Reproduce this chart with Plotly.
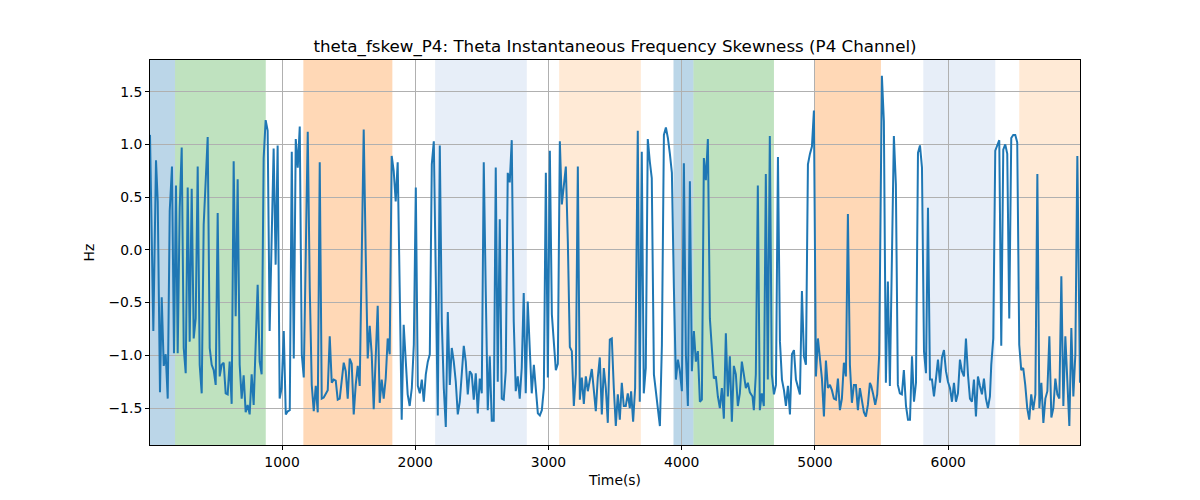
import plotly.graph_objects as go

time_s = [
    9, 34, 54, 67, 84, 97, 112, 127, 142, 157, 174, 189, 204, 217, 232, 247, 262, 277, 292, 307,
    322, 337, 352, 367, 382, 397, 412, 427, 442, 457, 472, 487, 502, 517, 532, 547, 562, 577, 592, 607,
    622, 637, 652, 667, 682, 697, 712, 727, 742, 757, 772, 787, 802, 817, 832, 847, 862, 877, 892, 907,
    937, 952, 967, 982, 997, 1013, 1028, 1043, 1058, 1073, 1088, 1103, 1118, 1133, 1148, 1163, 1193, 1208, 1223, 1238,
    1253, 1268, 1283, 1298, 1313, 1328, 1343, 1358, 1373, 1388, 1403, 1418, 1433, 1463, 1478, 1493, 1508, 1523, 1538, 1553,
    1568, 1583, 1613, 1628, 1643, 1658, 1673, 1688, 1703, 1718, 1733, 1748, 1763, 1778, 1793, 1808, 1823, 1838, 1853, 1868,
    1883, 1898, 1913, 1928, 1943, 1958, 1974, 1989, 2004, 2019, 2034, 2049, 2064, 2079, 2094, 2109, 2124, 2139, 2154, 2169,
    2184, 2199, 2214, 2229, 2244, 2259, 2274, 2289, 2304, 2319, 2334, 2349, 2364, 2379, 2394, 2409, 2424, 2439, 2454, 2469,
    2484, 2499, 2514, 2529, 2544, 2559, 2574, 2589, 2604, 2619, 2634, 2649, 2664, 2679, 2694, 2709, 2724, 2739, 2754, 2769,
    2784, 2799, 2814, 2829, 2844, 2859, 2874, 2890, 2905, 2920, 2935, 2950, 2965, 2980, 2995, 3010, 3025, 3040, 3055, 3070,
    3085, 3100, 3115, 3130, 3145, 3160, 3175, 3190, 3205, 3220, 3235, 3250, 3265, 3280, 3295, 3310, 3325, 3340, 3355, 3370,
    3385, 3400, 3415, 3430, 3445, 3460, 3475, 3490, 3505, 3520, 3535, 3550, 3565, 3580, 3595, 3610, 3620, 3635, 3650, 3670,
    3685, 3700, 3715, 3730, 3745, 3760, 3775, 3791, 3806, 3821, 3836, 3851, 3866, 3881, 3896, 3911, 3926, 3941, 3956, 3971,
    3986, 4001, 4016, 4031, 4046, 4061, 4076, 4091, 4106, 4121, 4136, 4151, 4166, 4181, 4196, 4211, 4226, 4241, 4256, 4271,
    4286, 4301, 4316, 4331, 4346, 4361, 4376, 4391, 4406, 4421, 4436, 4451, 4466, 4481, 4496, 4511, 4531, 4541, 4556, 4571,
    4586, 4601, 4616, 4631, 4646, 4661, 4676, 4692, 4707, 4722, 4737, 4752, 4767, 4782, 4797, 4812, 4827, 4842, 4857, 4872,
    4887, 4902, 4917, 4932, 4947, 4962, 4977, 4992, 5007, 5022, 5037, 5052, 5067, 5082, 5097, 5112, 5127, 5142, 5157, 5172,
    5187, 5202, 5217, 5232, 5247, 5262, 5277, 5292, 5307, 5322, 5337, 5352, 5367, 5382, 5397, 5412, 5422, 5437, 5452, 5467,
    5482, 5502, 5517, 5532, 5547, 5562, 5592, 5607, 5622, 5637, 5652, 5667, 5683, 5698, 5713, 5728, 5743, 5758, 5773, 5788,
    5803, 5818, 5833, 5848, 5863, 5878, 5893, 5908, 5923, 5938, 5953, 5968, 5983, 5998, 6013, 6028, 6043, 6058, 6073, 6088,
    6103, 6118, 6133, 6148, 6163, 6178, 6193, 6208, 6223, 6238, 6253, 6268, 6283, 6298, 6313, 6323, 6338, 6353, 6368, 6383,
    6398, 6413, 6428, 6443, 6458, 6473, 6488, 6503, 6518, 6533, 6548, 6563, 6578, 6593, 6608, 6623, 6638, 6654, 6669, 6684,
    6699, 6714, 6729, 6744, 6759, 6774, 6789, 6804, 6819, 6834, 6849, 6864, 6879, 6894, 6909, 6924, 6939, 6954, 6969, 6989,
]

skew_hz = [
    1.09, -0.77, 0.85, 0.46, -1.35, -0.45, -1.10, -0.99, -1.41, 0.37, 0.79, -0.98, 0.61, -0.98, 0.40, 0.97, -0.93, -1.17, 0.59, -0.87,
    0.58, -0.84, -0.65, 0.79, -1.09, -1.36, 0.24, 0.62, 1.07, -0.93, -1.09, -1.14, -1.28, 0.35, -1.20, -1.09, -1.07, -1.36, -1.37, -1.06,
    -1.46, 0.84, -0.63, 0.67, -1.09, -1.41, -1.19, -1.54, -1.47, -1.56, -1.18, -1.47, -0.90, -0.33, -1.06, -1.18, 0.87, 1.23, 1.13, -0.77,
    0.96, -0.14, 0.99, -1.41, -1.31, -0.77, -1.56, -1.53, -1.52, 0.93, -1.03, 1.05, 0.78, 1.17, -0.99, -1.21, 1.12, -0.36, -1.28, -1.53,
    -1.29, -1.54, 0.83, -1.41, -1.40, -1.37, -1.33, -0.82, -1.26, -1.23, -1.24, -1.42, -1.41, -1.07, -1.15, -1.41, -1.03, -1.08, -1.56, -1.28,
    -1.10, -1.29, 1.14, -0.04, -1.03, -0.72, -0.99, -1.51, -0.99, -0.53, -1.45, -1.23, -1.41, -1.22, -0.84, -0.99, 0.89, 0.75, 0.46, 0.83,
    -0.36, -1.61, -0.71, -0.99, -1.37, -1.48, -1.31, -0.90, 0.59, -1.29, -1.36, -1.23, -1.44, -1.18, -1.06, -0.99, 0.81, 1.03, -0.20, -1.57,
    0.99, -0.68, -1.31, -1.68, -0.59, -1.28, -0.93, -1.06, -1.25, -1.56, -1.44, -1.15, -0.91, -1.06, -1.37, -1.15, -1.18, -1.42, -1.17, -1.55,
    -1.22, -1.36, 0.83, -0.40, -1.52, -1.01, -1.62, -1.62, 0.78, -1.25, 0.29, -1.41, -1.42, -1.15, 0.73, 0.64, 1.04, -0.68, -1.34, -1.20,
    -1.41, -1.12, -0.41, -1.36, -0.49, -0.93, -1.36, -1.09, -1.31, -1.55, -1.57, -1.52, -1.31, 0.73, -1.21, 0.94, -0.61, -0.84, -1.14, -1.08,
    1.03, 0.43, 0.59, 0.79, 0.08, -0.92, -0.96, -1.48, -1.18, 0.79, -1.42, -1.21, -1.46, -1.20, -1.34, -1.23, -1.13, -1.33, -1.53, -1.21,
    -1.02, -1.56, -1.12, -1.31, -1.64, -0.85, -0.84, -1.31, -1.67, -1.37, -1.61, -1.26, -1.48, -1.48, -1.36, -1.50, -1.34, -1.63, -1.31, 1.13,
    -1.44, 0.93, -1.36, -1.12, 1.05, 0.84, 0.68, -1.18, -1.34, -1.53, -1.67, -0.90, 1.09, 1.16, 1.06, 0.91, 0.73, -0.36, -1.23, -1.04,
    -1.15, -1.34, 0.82, -0.99, -1.48, 0.65, -1.15, -0.77, -1.06, -0.96, -1.44, -1.42, 0.87, 0.66, 1.05, -0.65, -0.90, -1.22, -1.20, -1.39,
    -1.50, -1.31, -1.60, -0.79, -1.39, -1.01, -1.63, -1.10, -1.18, -1.48, -1.36, -1.06, -1.18, -1.31, -1.26, -1.35, -1.39, -1.52, -1.18, 0.61,
    -1.52, -1.36, -1.48, 0.72, -1.23, 1.08, -1.18, -1.37, -1.28, 0.88, -0.87, -1.23, -1.33, -1.48, -1.29, -1.56, -0.99, -0.95, -1.23, -1.31,
    -1.37, -0.39, -1.01, -1.09, 0.81, 0.91, 0.98, 1.32, -1.20, -0.84, -1.06, -1.22, -1.58, -1.05, -1.31, -1.28, -1.33, -1.41, -1.42, -1.22,
    -1.52, -1.41, -1.07, -1.20, 0.34, -1.09, -1.45, -1.28, -1.28, -1.52, -1.31, -1.45, -1.54, -1.58, -1.47, -1.26, -1.29, -1.37, -1.47, -1.37,
    -0.99, 1.65, 1.22, -1.26, -0.30, -1.29, 1.08, 0.62, -1.28, -1.36, -1.37, -1.14, -1.48, -1.61, -1.61, -1.01, -1.44, -1.26, 0.92, 0.99,
    0.78, -0.96, -1.17, 0.40, -1.23, -1.23, -1.39, -1.22, -1.04, -1.26, -1.02, -0.95, -1.15, -1.25, -1.31, -1.44, -1.26, -1.44, -1.36, -1.04,
    -1.15, -1.20, -0.84, -1.18, -1.41, -1.44, -1.23, -1.58, -1.20, -1.29, -1.37, -1.22, -1.41, -1.50, -1.39, -1.09, -0.84, 0.94, 1.00, 1.04,
    -0.91, 0.95, 1.00, 0.91, -0.65, 1.06, 1.09, 1.09, 1.02, -0.90, -1.14, -1.12, -1.28, -1.50, -1.61, -1.37, -1.52, -1.37, 0.72, -1.50,
    -1.26, -1.64, -1.41, -1.34, -0.82, -1.59, -1.50, -1.22, -1.37, -1.41, -0.25, -1.48, -0.82, -1.28, -1.67, -0.74, -1.39, -0.99, 0.89, -1.26,
]

# shaded periods: (start, end, colour)
band_start = [9, 197, 1160, 2149, 3080, 3938, 4088, 4997, 5813, 6533]
band_end = [197, 878, 1828, 2837, 3693, 4088, 4692, 5495, 6353, 6989]
band_color = [
    "rgba(31,119,180,0.3)", "rgba(44,160,44,0.3)", "rgba(255,127,14,0.3)",
    "rgba(174,199,232,0.3)", "rgba(255,187,120,0.3)",
    "rgba(31,119,180,0.3)", "rgba(44,160,44,0.3)", "rgba(255,127,14,0.3)",
    "rgba(174,199,232,0.3)", "rgba(255,187,120,0.3)",
]

x_ticks = [1000, 2000, 3000, 4000, 5000, 6000]
y_ticks = [-1.5, -1.0, -0.5, 0.0, 0.5, 1.0, 1.5]

fig = go.Figure()
for s, e, c in zip(band_start, band_end, band_color):
    fig.add_vrect(x0=s, x1=e, fillcolor=c, line_width=0, layer="below")

fig.add_trace(go.Scatter(x=time_s, y=skew_hz, mode="lines",
                         line=dict(color="#1f77b4", width=2), showlegend=False))

font = "DejaVu Sans"
fig.update_layout(
    width=1200, height=500,
    margin=dict(l=142, r=128, t=52, b=63),
    paper_bgcolor="white", plot_bgcolor="white",
    font=dict(family=font, size=13.9, color="black"),
    title=dict(text="theta_fskew_P4: Theta Instantaneous Frequency Skewness (P4 Channel)",
               xref="paper", x=0.5, xanchor="center", y=0.924, yanchor="middle",
               font=dict(family=font, size=16.7, color="black")),
)
fig.update_xaxes(range=[9, 6989], tickvals=x_ticks, ticktext=[str(v) for v in x_ticks],
                 showgrid=True, gridcolor="#b0b0b0", gridwidth=1,
                 showline=True, linecolor="black", linewidth=1, mirror=True,
                 ticks="outside", ticklen=4, tickcolor="black", zeroline=False,
                 tickfont=dict(size=13.9),
                 title=dict(text="Time(s)", standoff=6, font=dict(size=13.9)))
fig.update_yaxes(range=[-1.85, 1.8], tickvals=y_ticks,
                 ticktext=["\u22121.5", "\u22121.0", "\u22120.5", "0.0", "0.5", "1.0", "1.5"],
                 showgrid=True, gridcolor="#b0b0b0", gridwidth=1,
                 showline=True, linecolor="black", linewidth=1, mirror=True,
                 ticks="outside", ticklen=4, tickcolor="black", zeroline=False,
                 tickfont=dict(size=13.9),
                 title=dict(text="Hz", standoff=10, font=dict(size=13.9)))

fig.write_html("out.html")
